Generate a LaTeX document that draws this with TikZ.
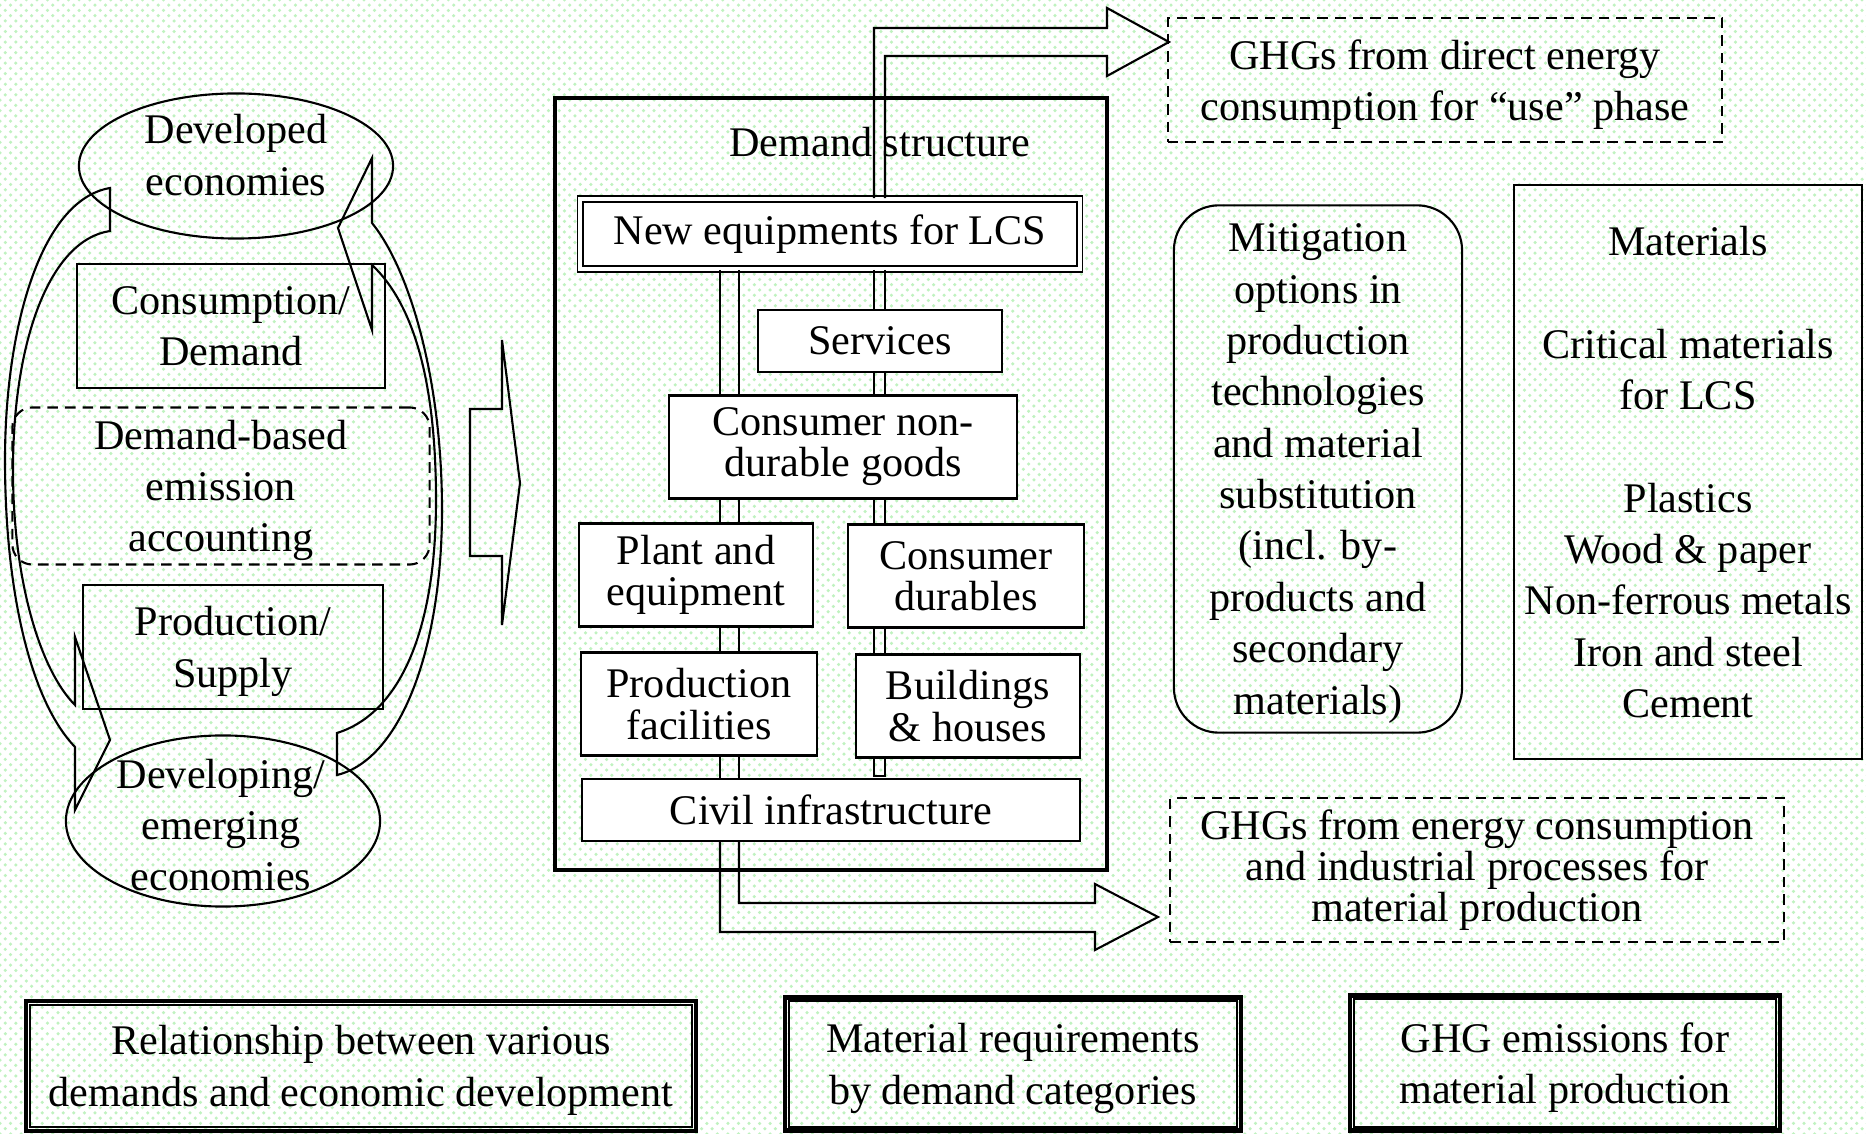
\documentclass[tikz,border=0pt]{standalone}
\usepackage{fontspec}
\setmainfont{Liberation Serif}
\usetikzlibrary{shapes.geometric,patterns,calc}
\definecolor{dotgreen}{RGB}{192,242,192}

\begin{document}
\begin{tikzpicture}[x=0.01cm, y=-0.01cm]
    \tikzstyle{every node}=[font=\fontsize{12}{14.6}\selectfont, align=center, inner sep=0pt, text=black]
    \tikzstyle{box}=[draw, line width=0.6pt, rectangle]
    \tikzstyle{nodepth}=[text depth=0pt]
    \tikzstyle{wbox}=[box, fill=white, font=\fontsize{12}{11.7}\selectfont]
    \tikzstyle{dbox}=[draw, line width=0.6pt, dash pattern=on 3pt off 2pt]
    \tikzstyle{oval}=[draw, line width=0.6pt, ellipse]
    \tikzstyle{blk}=[line width=0.6pt, line join=miter]

    \useasboundingbox (0,0) rectangle (1866,1134);
    \fill[white] (0,0) rectangle (1866,1134);
    \fill[pattern=crosshatch dots, pattern color=dotgreen] (0,0) rectangle (1866,1134);

    % left column
    \node[oval, minimum width=3.14cm, minimum height=1.45cm] (devd) at (236,166) {};
    \node (devdtxt) at (236,155) {Developed\\economies};
    \node[box, nodepth, minimum width=3.07cm, minimum height=1.24cm] (cons) at (231,326) {Consumption/\\Demand};
    \node[dbox, nodepth, rounded corners=0.2cm, minimum width=4.17cm, minimum height=1.57cm] (dba) at (221,486) {Demand-based\\emission\\accounting};
    \node[box, nodepth, minimum width=3.00cm, minimum height=1.24cm] (prod) at (233,647) {Production/\\Supply};
    \node[oval, minimum width=3.14cm, minimum height=1.71cm] (devg) at (223,821) {};
    \node (devgtxt) at (221,825) {Developing/\\emerging\\economies};

    \draw[blk] (110,231) .. controls (50,240) and (13,340) .. (13,470) .. controls (13,580) and (40,670) .. (75,705)
        -- (75,637) -- (110,740) -- (75,810) -- (75,747)
        .. controls (30,700) and (5,590) .. (5,460) .. controls (5,330) and (40,200) .. (110,188) -- cycle;
    \draw[blk] (337,733) .. controls (395,715) and (436,640) .. (436,500) .. controls (436,400) and (420,310) .. (372,265)
        -- (372,330) -- (338,228) -- (372,158) -- (372,223)
        .. controls (410,270) and (442,380) .. (442,510) .. controls (442,650) and (400,760) .. (337,775) -- cycle;

    \draw[blk] (470,409) -- (502,409) -- (502,340) -- (520,483) -- (502,625) -- (502,556) -- (470,556) -- cycle;

    % demand structure
    \node[draw, line width=1.2pt, minimum width=5.51cm, minimum height=7.71cm] (dstruct) at (831,484) {};
    \node (dtitle) at (880,142) {Demand structure};
    \node[wbox, double, double distance=0.04cm, line width=0.5pt, minimum width=4.99cm, minimum height=0.70cm] (newlcs) at (830,234) {New equipments for LCS};
    \node[wbox, minimum width=2.44cm, minimum height=0.62cm] (serv) at (880,341) {Services};
    \node[wbox, minimum width=3.48cm, minimum height=1.03cm] (cnd) at (843,447) {Consumer non-\\durable goods};
    \node[wbox, minimum width=2.33cm, minimum height=1.03cm] (plant) at (696,575) {Plant and\\equipment};
    \node[wbox, minimum width=2.35cm, minimum height=1.03cm] (cdur) at (966,576) {Consumer\\durables};
    \node[wbox, minimum width=2.35cm, minimum height=1.03cm] (prodfac) at (699,704) {Production\\facilities};
    \node[wbox, minimum width=2.23cm, minimum height=1.03cm] (bldg) at (968,706) {Buildings\\\& houses};
    \node[wbox, minimum width=4.98cm, minimum height=0.62cm] (civil) at (831,810) {Civil infrastructure};

    \coordinate (pa) at (720,0);
    \coordinate (pb) at (739,0);
    \coordinate (pc) at (874,0);
    \coordinate (pd) at (885,0);
    \foreach \a/\b in {newlcs/cnd, cnd/plant, plant/prodfac, prodfac/civil}
        \draw[blk] (\a.south -| pa) -- (\b.north -| pa) (\a.south -| pb) -- (\b.north -| pb);
    \foreach \a/\b in {newlcs/serv, serv/cnd, cnd/cdur, cdur/bldg}
        \draw[blk] (\a.south -| pc) -- (\b.north -| pc) (\a.south -| pd) -- (\b.north -| pd);
    \draw[blk] (bldg.south -| pc) -- (874,776) -- (885,776) -- (bldg.south -| pd);

    \draw[blk] (newlcs.north -| pc) -- (874,28) -- (1107,28) -- (1107,8) -- (1169,42) -- (1107,76) -- (1107,56) -- (885,56) -- (newlcs.north -| pd);
    \draw[blk] (civil.south -| pa) -- (720,932) -- (1095,932) -- (1095,950) -- (1158,917) -- (1095,884) -- (1095,903) -- (739,903) -- (civil.south -| pb);

    % right side
    \node[dbox, nodepth, minimum width=5.54cm, minimum height=1.24cm] (ghgdir) at (1445,80) {GHGs from direct energy\\consumption for ``use'' phase};
    \node[draw, nodepth, line width=0.6pt, rounded corners=0.45cm, minimum width=2.88cm, minimum height=5.27cm] (mitig) at (1318,469) {Mitigation\\options in\\production\\technologies\\and material\\substitution\\(incl. by-\\products and\\secondary\\materials)};
    \node[box, nodepth, minimum width=3.48cm, minimum height=5.74cm] (mater) at (1688,472) {Materials\\[14.6pt]Critical materials\\for LCS\\[14.6pt]Plastics\\Wood \& paper\\Non-ferrous metals\\Iron and steel\\Cement};
    \node[dbox, font=\fontsize{12}{11.7}\selectfont, minimum width=6.13cm, minimum height=1.44cm] (ghgmat) at (1477,870) {GHGs from energy consumption\\and industrial processes for\\material production};

    % bottom row
    \node[box, nodepth, line width=1.2pt, minimum width=6.70cm, minimum height=1.30cm] (rel) at (361,1066) {Relationship between various\\demands and economic development};
    \node[box, nodepth, line width=1.2pt, minimum width=4.55cm, minimum height=1.33cm] (matreq) at (1013,1064) {Material requirements\\by demand categories};
    \node[box, nodepth, line width=1.2pt, minimum width=4.29cm, minimum height=1.35cm] (ghgem) at (1565,1063) {GHG emissions for\\material production};
    \foreach \b in {rel, matreq, ghgem}
        \draw[line width=0.5pt] ($(\b.south west)+(6,-6)$) rectangle ($(\b.north east)+(-6,6)$);
\end{tikzpicture}
\end{document}
